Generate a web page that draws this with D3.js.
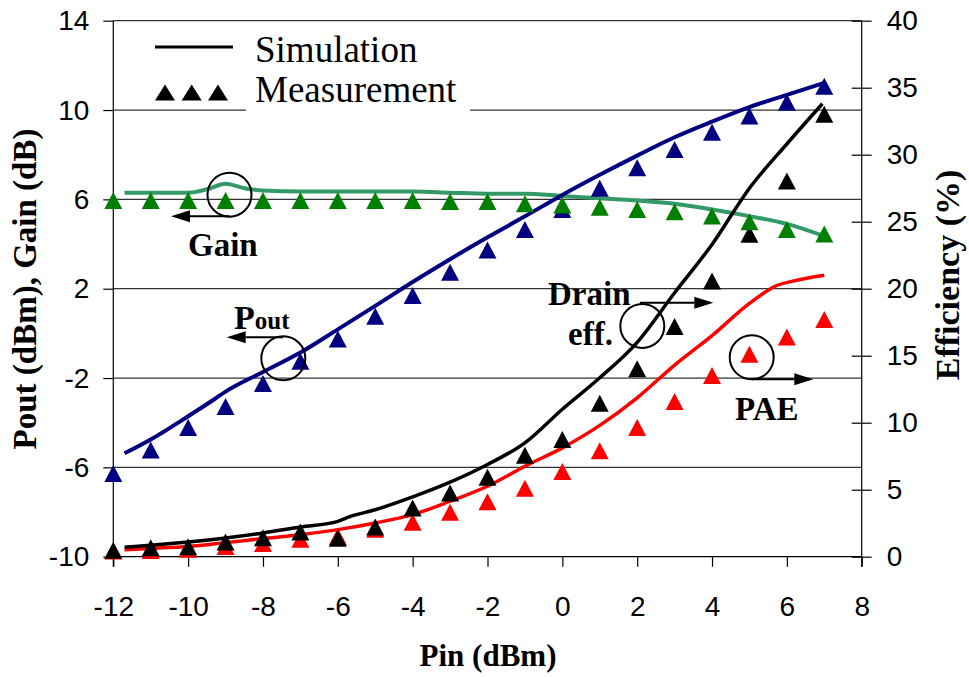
<!DOCTYPE html>
<html>
<head>
<meta charset="utf-8">
<script src="https://cdn.jsdelivr.net/npm/d3@7"></script>
<style>
  html, body { margin: 0; padding: 0; background: #fff; }
  svg { display: block; }
</style>
</head>
<body>
<svg id="chart" width="969" height="677"></svg>
<script>
// ---- data ----
const pin = [-12,-11,-10,-9,-8,-7,-6,-5,-4,-3,-2,-1,0,1,2,3,4,5,6,7];
const gainMeas  = [5.95,5.95,5.95,5.95,5.95,5.95,5.95,5.95,5.95,5.9,5.9,5.8,5.75,5.65,5.55,5.45,5.25,5.0,4.65,4.45];
const poutMeas  = [-6.28,-5.22,-4.21,-3.27,-2.24,-1.25,-0.25,0.77,1.7,2.74,3.73,4.65,5.55,6.5,7.42,8.23,9.0,9.73,10.35,11.07];
const drainMeas = [0.48,0.67,0.75,1.1,1.42,1.84,1.37,2.22,3.64,4.76,5.93,7.57,8.75,11.46,14.03,17.17,20.58,24.07,28.04,33.02];
const paeMeas   = [0.43,0.47,0.55,0.77,0.99,1.3,1.5,2.05,2.57,3.31,4.11,5.11,6.36,7.9,9.64,11.59,13.53,15.1,16.4,17.7];

const gainSimX = [-11.7,-11,-10,-9.5,-9,-8.5,-8,-7,-6,-5,-4,-3,-2,-1,0,1,2,3,4,5,6,7];
const gainSim  = [6.3,6.3,6.3,6.45,6.7,6.5,6.4,6.35,6.35,6.35,6.35,6.3,6.25,6.25,6.15,6.05,5.95,5.8,5.55,5.25,4.9,4.35];
const poutSimX = [-11.7,-11,-10,-9.3,-9,-8,-7,-6,-5,-4,-3,-2,-1,0,1,2,3,4,5,6,7];
const poutSim  = [-5.37,-4.75,-3.71,-2.95,-2.61,-1.73,-0.86,0.18,1.23,2.3,3.32,4.3,5.24,6.2,7.1,7.96,8.78,9.48,10.13,10.68,11.22];
const drainSimX = [-11.7,-11,-10,-9,-8,-7,-6,-5.7,-5,-4,-3,-2,-1,0,1,2,3,4,5,6,6.95];
const drainSim  = [0.7,0.85,1.1,1.4,1.77,2.22,2.64,2.97,3.5,4.46,5.56,6.88,8.5,11.0,13.35,16.0,19.7,23.3,27.5,30.8,33.8];
const paeSimX = [-11.7,-11,-10,-9,-8,-7,-6,-5,-4,-3,-2,-1,0,1,2,3,4,5,5.7,6.3,7];
const paeSim  = [0.52,0.62,0.77,1.05,1.35,1.64,2.02,2.52,3.14,4.14,5.26,6.75,8.12,9.8,11.86,14.3,16.5,18.9,20.2,20.65,21.0];

const xTicks = [-12,-10,-8,-6,-4,-2,0,2,4,6,8];
const yLeftTicks = [-10,-6,-2,2,6,10,14];
const yRightTicks = [0,5,10,15,20,25,30,35,40];

// ---- layout ----
const svg = d3.select("#chart");
const L = 113.3, R = 861.7, T = 20.7, B = 556.7;
const x = d3.scaleLinear().domain([-12, 8]).range([L, R]);
const yL = d3.scaleLinear().domain([-10, 14]).range([B, T]);
const yR = d3.scaleLinear().domain([0, 40]).range([B, T]);

const serif = "'Liberation Serif', 'Times New Roman', serif";
const sans = "'Liberation Sans', Arial, sans-serif";
const fmt = d => String(d);

// gridlines
svg.append("g").selectAll("line").data(yLeftTicks.filter(d => d > -10)).join("line")
  .attr("x1", L).attr("x2", R).attr("y1", d => yL(d)).attr("y2", d => yL(d))
  .attr("stroke", "#333").attr("stroke-width", 1.2);

// axes
const gx = svg.append("g").attr("transform", `translate(0,${B})`)
  .call(d3.axisBottom(x).tickValues(xTicks).tickSize(10).tickPadding(16).tickFormat(fmt));
const gl = svg.append("g").attr("transform", `translate(${L},0)`)
  .call(d3.axisLeft(yL).tickValues(yLeftTicks).tickSize(10).tickPadding(14).tickFormat(fmt));
const gr = svg.append("g").attr("transform", `translate(${R},0)`)
  .call(d3.axisRight(yR).tickValues(yRightTicks).tickSize(10).tickPadding(15).tickFormat(fmt));
gr.selectAll(".tick line").attr("x1", -10);
[gx, gl, gr].forEach(g => {
  g.select(".domain").attr("stroke", "#000").attr("stroke-width", 1.2);
  g.selectAll(".tick line").attr("stroke", "#000").attr("stroke-width", 1.2);
  g.selectAll(".tick text").attr("font-family", sans).attr("font-size", 28).attr("fill", "#000");
});
gl.select(".domain").attr("d", `M0,${T}V${B + 10}`);
gr.select(".domain").attr("d", `M0,${T}V${B + 10}`);
gx.select(".domain").attr("d", `M${L},0H${R}`);
gx.selectAll(".tick text").attr("dy", "0.71em").attr("y", 39);

// axis titles
svg.append("text").attr("x", 488).attr("y", 666).attr("text-anchor", "middle")
  .attr("font-family", serif).attr("font-weight", "bold").attr("font-size", 31).text("Pin (dBm)");
svg.append("text").attr("transform", "translate(36,289) rotate(-90)").attr("text-anchor", "middle")
  .attr("font-family", serif).attr("font-weight", "bold").attr("font-size", 33).text("Pout (dBm), Gain (dB)");
svg.append("text").attr("transform", "translate(959,275) rotate(-90)").attr("text-anchor", "middle")
  .attr("font-family", serif).attr("font-weight", "bold").attr("font-size", 34).text("Efficiency (%)");

// legend background
svg.append("rect").attr("x", 246).attr("y", 26).attr("width", 224).attr("height", 88).attr("fill", "#fff");

// lines
const mk = (xs, ys, sc) => d3.line().curve(d3.curveMonotoneX)
  .x((d, i) => x(xs[i])).y(d => sc(d))(ys);
svg.append("path").attr("d", mk(gainSimX, gainSim, yL)).attr("fill", "none").attr("stroke", "#339966").attr("stroke-width", 4);
svg.append("path").attr("d", mk(poutSimX, poutSim, yL)).attr("fill", "none").attr("stroke", "#000080").attr("stroke-width", 4);
svg.append("path").attr("d", mk(paeSimX, paeSim, yR)).attr("fill", "none").attr("stroke", "#ff0000").attr("stroke-width", 3.5);
svg.append("path").attr("d", mk(drainSimX, drainSim, yR)).attr("fill", "none").attr("stroke", "#000").attr("stroke-width", 3.5);

// triangle markers
const tri = (w, h) => `M0,${-h/2}L${w/2},${h/2}L${-w/2},${h/2}Z`;
function markers(vals, sc, color) {
  svg.append("g").selectAll("path").data(vals).join("path")
    .attr("d", tri(18, 17))
    .attr("transform", (d, i) => `translate(${x(pin[i])},${sc(d)})`)
    .attr("fill", color);
}
markers(paeMeas, yR, "#ff0000");
markers(drainMeas, yR, "#000");
markers(poutMeas, yL, "#000080");
markers(gainMeas, yL, "#008000");

// legend
svg.append("line").attr("x1", 155).attr("x2", 233).attr("y1", 47).attr("y2", 47).attr("stroke", "#000").attr("stroke-width", 3);
svg.append("g").selectAll("path").data([165, 191.7, 218]).join("path")
  .attr("d", tri(20, 16)).attr("transform", d => `translate(${d},92.5)`).attr("fill", "#000");
svg.append("text").attr("x", 255).attr("y", 62).attr("font-family", serif).attr("font-size", 37).text("Simulation");
svg.append("text").attr("x", 255).attr("y", 102).attr("font-family", serif).attr("font-size", 37).text("Measurement");

// annotations
const ann = svg.append("g");
function circle(cx, cy) {
  ann.append("circle").attr("cx", cx).attr("cy", cy).attr("r", 22).attr("fill", "none").attr("stroke", "#000").attr("stroke-width", 2);
}
function arrow(x1, x2, yy) {
  const dir = x2 > x1 ? 1 : -1;
  const hl = 19, hw = 6;
  ann.append("line").attr("x1", x1).attr("x2", x2 - dir * hl).attr("y1", yy).attr("y2", yy).attr("stroke", "#000").attr("stroke-width", 2);
  ann.append("path").attr("d", `M${x2},${yy}L${x2 - dir * hl},${yy - hw}L${x2 - dir * hl},${yy + hw}Z`).attr("fill", "#000");
}
function label(tx, ty, s, size) {
  ann.append("text").attr("x", tx).attr("y", ty).attr("font-family", serif).attr("font-weight", "bold").attr("font-size", size || 33).text(s);
}
circle(229.5, 194.7); arrow(229.5, 171, 216.2); label(188, 256, "Gain");
circle(283.3, 358.3); arrow(283.3, 226.7, 337.3);
const pt = ann.append("text").attr("x", 234).attr("y", 329).attr("font-family", serif).attr("font-weight", "bold");
pt.append("tspan").attr("font-size", 34).text("P");
pt.append("tspan").attr("font-size", 25).text("out");
circle(642.3, 326); arrow(640, 713.3, 302.7); label(548, 305, "Drain"); label(568, 345, "eff.");
circle(751.7, 357.3); arrow(752, 813.3, 379.3); label(735, 420, "PAE");
</script>
</body>
</html>
